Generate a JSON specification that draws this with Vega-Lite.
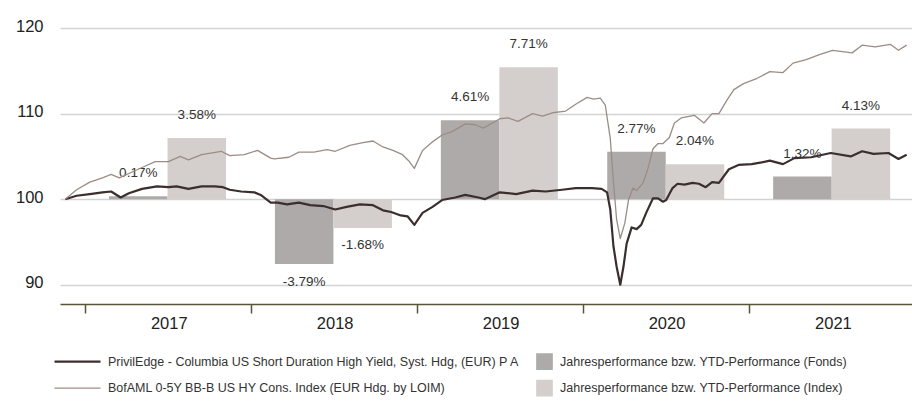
{
  "$schema": "https://vega.github.io/schema/vega-lite/v6.json",
  "width": 852,
  "height": 294,
  "autosize": {"type": "none"},
  "padding": {"left": 60, "top": 10, "right": 0, "bottom": 97},
  "background": "white",
  "config": {
    "view": {"stroke": null},
    "font": "Liberation Sans",
    "axis": {"labelFont": "Liberation Sans"},
    "legend": {"labelFont": "Liberation Sans"}
  },
  "datasets": {
    "bars": [
      {"date": "2017-07-02", "series": "Jahresperformance bzw. YTD-Performance (Fonds)", "pct": 0.17, "label": "0.17%"},
      {"date": "2017-07-02", "series": "Jahresperformance bzw. YTD-Performance (Index)", "pct": 3.58, "label": "3.58%"},
      {"date": "2018-07-02", "series": "Jahresperformance bzw. YTD-Performance (Fonds)", "pct": -3.79, "label": "-3.79%"},
      {"date": "2018-07-02", "series": "Jahresperformance bzw. YTD-Performance (Index)", "pct": -1.68, "label": "-1.68%"},
      {"date": "2019-07-02", "series": "Jahresperformance bzw. YTD-Performance (Fonds)", "pct": 4.61, "label": "4.61%"},
      {"date": "2019-07-02", "series": "Jahresperformance bzw. YTD-Performance (Index)", "pct": 7.71, "label": "7.71%"},
      {"date": "2020-07-02", "series": "Jahresperformance bzw. YTD-Performance (Fonds)", "pct": 2.77, "label": "2.77%"},
      {"date": "2020-07-02", "series": "Jahresperformance bzw. YTD-Performance (Index)", "pct": 2.04, "label": "2.04%"},
      {"date": "2021-07-02", "series": "Jahresperformance bzw. YTD-Performance (Fonds)", "pct": 1.32, "label": "1.32%"},
      {"date": "2021-07-02", "series": "Jahresperformance bzw. YTD-Performance (Index)", "pct": 4.13, "label": "4.13%"}
    ],
    "lines": [
      {"date": "2016-11-19", "series": "Fund", "value": 100.0},
      {"date": "2016-12-14", "series": "Fund", "value": 100.4},
      {"date": "2017-01-12", "series": "Fund", "value": 100.6},
      {"date": "2017-02-09", "series": "Fund", "value": 100.8},
      {"date": "2017-02-28", "series": "Fund", "value": 100.9},
      {"date": "2017-03-21", "series": "Fund", "value": 100.2},
      {"date": "2017-04-08", "series": "Fund", "value": 100.7},
      {"date": "2017-05-07", "series": "Fund", "value": 101.2},
      {"date": "2017-06-09", "series": "Fund", "value": 101.5},
      {"date": "2017-07-04", "series": "Fund", "value": 101.4},
      {"date": "2017-07-22", "series": "Fund", "value": 101.5},
      {"date": "2017-08-17", "series": "Fund", "value": 101.2},
      {"date": "2017-09-15", "series": "Fund", "value": 101.5},
      {"date": "2017-10-14", "series": "Fund", "value": 101.5},
      {"date": "2017-11-01", "series": "Fund", "value": 101.4},
      {"date": "2017-11-16", "series": "Fund", "value": 101.1},
      {"date": "2017-12-11", "series": "Fund", "value": 100.9},
      {"date": "2018-01-09", "series": "Fund", "value": 100.8},
      {"date": "2018-01-23", "series": "Fund", "value": 100.5},
      {"date": "2018-02-14", "series": "Fund", "value": 99.6},
      {"date": "2018-03-01", "series": "Fund", "value": 99.6},
      {"date": "2018-03-22", "series": "Fund", "value": 99.4},
      {"date": "2018-04-17", "series": "Fund", "value": 99.6},
      {"date": "2018-05-12", "series": "Fund", "value": 99.3},
      {"date": "2018-06-10", "series": "Fund", "value": 99.2},
      {"date": "2018-07-06", "series": "Fund", "value": 98.8},
      {"date": "2018-07-31", "series": "Fund", "value": 99.1},
      {"date": "2018-08-29", "series": "Fund", "value": 99.4},
      {"date": "2018-09-27", "series": "Fund", "value": 99.3},
      {"date": "2018-10-19", "series": "Fund", "value": 98.7},
      {"date": "2018-11-06", "series": "Fund", "value": 98.5},
      {"date": "2018-11-27", "series": "Fund", "value": 98.1},
      {"date": "2018-12-12", "series": "Fund", "value": 98.0},
      {"date": "2018-12-27", "series": "Fund", "value": 97.0},
      {"date": "2019-01-14", "series": "Fund", "value": 98.4},
      {"date": "2019-02-05", "series": "Fund", "value": 99.1},
      {"date": "2019-02-26", "series": "Fund", "value": 99.9},
      {"date": "2019-03-27", "series": "Fund", "value": 100.2},
      {"date": "2019-04-18", "series": "Fund", "value": 100.5},
      {"date": "2019-05-17", "series": "Fund", "value": 100.2},
      {"date": "2019-05-31", "series": "Fund", "value": 100.0},
      {"date": "2019-07-03", "series": "Fund", "value": 100.8},
      {"date": "2019-08-08", "series": "Fund", "value": 100.6},
      {"date": "2019-09-13", "series": "Fund", "value": 101.0},
      {"date": "2019-10-12", "series": "Fund", "value": 100.9},
      {"date": "2019-11-17", "series": "Fund", "value": 101.1},
      {"date": "2019-12-17", "series": "Fund", "value": 101.3},
      {"date": "2020-01-22", "series": "Fund", "value": 101.3},
      {"date": "2020-02-12", "series": "Fund", "value": 101.2},
      {"date": "2020-02-24", "series": "Fund", "value": 100.8},
      {"date": "2020-03-02", "series": "Fund", "value": 98.8},
      {"date": "2020-03-09", "series": "Fund", "value": 94.5},
      {"date": "2020-03-16", "series": "Fund", "value": 92.1},
      {"date": "2020-03-24", "series": "Fund", "value": 90.0},
      {"date": "2020-03-31", "series": "Fund", "value": 92.1},
      {"date": "2020-04-07", "series": "Fund", "value": 94.8},
      {"date": "2020-04-18", "series": "Fund", "value": 96.7},
      {"date": "2020-04-29", "series": "Fund", "value": 96.5},
      {"date": "2020-05-09", "series": "Fund", "value": 97.0},
      {"date": "2020-05-20", "series": "Fund", "value": 98.4},
      {"date": "2020-06-04", "series": "Fund", "value": 100.1},
      {"date": "2020-06-15", "series": "Fund", "value": 100.1},
      {"date": "2020-06-26", "series": "Fund", "value": 99.7},
      {"date": "2020-07-03", "series": "Fund", "value": 99.9},
      {"date": "2020-07-17", "series": "Fund", "value": 101.3},
      {"date": "2020-07-28", "series": "Fund", "value": 101.8},
      {"date": "2020-08-12", "series": "Fund", "value": 101.7},
      {"date": "2020-08-30", "series": "Fund", "value": 101.9},
      {"date": "2020-09-13", "series": "Fund", "value": 101.8},
      {"date": "2020-09-28", "series": "Fund", "value": 101.4},
      {"date": "2020-10-12", "series": "Fund", "value": 102.0},
      {"date": "2020-10-27", "series": "Fund", "value": 101.9},
      {"date": "2020-11-18", "series": "Fund", "value": 103.5},
      {"date": "2020-12-09", "series": "Fund", "value": 104.0},
      {"date": "2021-01-07", "series": "Fund", "value": 104.1},
      {"date": "2021-01-29", "series": "Fund", "value": 104.3},
      {"date": "2021-02-16", "series": "Fund", "value": 104.5},
      {"date": "2021-03-17", "series": "Fund", "value": 104.1},
      {"date": "2021-04-11", "series": "Fund", "value": 104.8},
      {"date": "2021-05-18", "series": "Fund", "value": 104.9},
      {"date": "2021-06-30", "series": "Fund", "value": 105.4},
      {"date": "2021-08-13", "series": "Fund", "value": 105.0},
      {"date": "2021-09-07", "series": "Fund", "value": 105.6},
      {"date": "2021-10-02", "series": "Fund", "value": 105.3},
      {"date": "2021-11-04", "series": "Fund", "value": 105.4},
      {"date": "2021-11-26", "series": "Fund", "value": 104.7},
      {"date": "2021-12-14", "series": "Fund", "value": 105.2},
      {"date": "2016-11-19", "series": "Index", "value": 100.0},
      {"date": "2016-12-14", "series": "Index", "value": 101.1},
      {"date": "2017-01-12", "series": "Index", "value": 102.0},
      {"date": "2017-02-09", "series": "Index", "value": 102.5},
      {"date": "2017-02-28", "series": "Index", "value": 102.9},
      {"date": "2017-03-18", "series": "Index", "value": 102.5},
      {"date": "2017-04-08", "series": "Index", "value": 103.0},
      {"date": "2017-05-07", "series": "Index", "value": 103.7},
      {"date": "2017-06-05", "series": "Index", "value": 104.4},
      {"date": "2017-07-04", "series": "Index", "value": 104.4},
      {"date": "2017-07-30", "series": "Index", "value": 105.0},
      {"date": "2017-08-17", "series": "Index", "value": 104.6},
      {"date": "2017-09-15", "series": "Index", "value": 105.2},
      {"date": "2017-10-28", "series": "Index", "value": 105.6},
      {"date": "2017-11-16", "series": "Index", "value": 105.1},
      {"date": "2017-12-18", "series": "Index", "value": 105.2},
      {"date": "2018-01-16", "series": "Index", "value": 105.7},
      {"date": "2018-02-14", "series": "Index", "value": 104.8},
      {"date": "2018-02-22", "series": "Index", "value": 104.7},
      {"date": "2018-03-26", "series": "Index", "value": 104.9},
      {"date": "2018-04-17", "series": "Index", "value": 105.5},
      {"date": "2018-05-20", "series": "Index", "value": 105.5},
      {"date": "2018-06-18", "series": "Index", "value": 105.8},
      {"date": "2018-07-06", "series": "Index", "value": 105.6},
      {"date": "2018-08-07", "series": "Index", "value": 106.3},
      {"date": "2018-09-05", "series": "Index", "value": 106.6},
      {"date": "2018-09-27", "series": "Index", "value": 106.8},
      {"date": "2018-10-19", "series": "Index", "value": 106.1},
      {"date": "2018-11-10", "series": "Index", "value": 105.7},
      {"date": "2018-12-01", "series": "Index", "value": 105.2},
      {"date": "2018-12-16", "series": "Index", "value": 104.4},
      {"date": "2018-12-27", "series": "Index", "value": 103.6},
      {"date": "2019-01-14", "series": "Index", "value": 105.7},
      {"date": "2019-02-05", "series": "Index", "value": 106.7},
      {"date": "2019-02-26", "series": "Index", "value": 107.5},
      {"date": "2019-03-20", "series": "Index", "value": 107.9},
      {"date": "2019-04-18", "series": "Index", "value": 108.8},
      {"date": "2019-05-10", "series": "Index", "value": 108.7},
      {"date": "2019-05-28", "series": "Index", "value": 108.3},
      {"date": "2019-07-03", "series": "Index", "value": 109.4},
      {"date": "2019-07-21", "series": "Index", "value": 109.5},
      {"date": "2019-08-12", "series": "Index", "value": 109.1},
      {"date": "2019-09-13", "series": "Index", "value": 110.0},
      {"date": "2019-10-05", "series": "Index", "value": 109.7},
      {"date": "2019-10-27", "series": "Index", "value": 110.1},
      {"date": "2019-11-25", "series": "Index", "value": 110.3},
      {"date": "2019-12-17", "series": "Index", "value": 111.1},
      {"date": "2020-01-11", "series": "Index", "value": 111.9},
      {"date": "2020-01-25", "series": "Index", "value": 111.7},
      {"date": "2020-02-09", "series": "Index", "value": 111.8},
      {"date": "2020-02-20", "series": "Index", "value": 111.0},
      {"date": "2020-03-02", "series": "Index", "value": 107.1},
      {"date": "2020-03-09", "series": "Index", "value": 102.0},
      {"date": "2020-03-16", "series": "Index", "value": 97.6},
      {"date": "2020-03-24", "series": "Index", "value": 95.4},
      {"date": "2020-04-03", "series": "Index", "value": 97.2},
      {"date": "2020-04-11", "series": "Index", "value": 99.9},
      {"date": "2020-04-21", "series": "Index", "value": 101.3},
      {"date": "2020-04-29", "series": "Index", "value": 101.0},
      {"date": "2020-05-13", "series": "Index", "value": 101.9},
      {"date": "2020-05-24", "series": "Index", "value": 103.6},
      {"date": "2020-06-04", "series": "Index", "value": 105.9},
      {"date": "2020-06-15", "series": "Index", "value": 106.5},
      {"date": "2020-06-26", "series": "Index", "value": 106.5},
      {"date": "2020-07-10", "series": "Index", "value": 107.2},
      {"date": "2020-07-21", "series": "Index", "value": 108.9},
      {"date": "2020-08-05", "series": "Index", "value": 109.5},
      {"date": "2020-09-03", "series": "Index", "value": 109.8},
      {"date": "2020-09-24", "series": "Index", "value": 108.9},
      {"date": "2020-10-12", "series": "Index", "value": 110.0},
      {"date": "2020-10-27", "series": "Index", "value": 110.0},
      {"date": "2020-11-14", "series": "Index", "value": 111.6},
      {"date": "2020-11-29", "series": "Index", "value": 112.8},
      {"date": "2020-12-20", "series": "Index", "value": 113.5},
      {"date": "2021-01-18", "series": "Index", "value": 114.1},
      {"date": "2021-02-16", "series": "Index", "value": 114.9},
      {"date": "2021-03-17", "series": "Index", "value": 114.8},
      {"date": "2021-04-08", "series": "Index", "value": 115.9},
      {"date": "2021-05-07", "series": "Index", "value": 116.3},
      {"date": "2021-06-05", "series": "Index", "value": 116.9},
      {"date": "2021-07-04", "series": "Index", "value": 117.4},
      {"date": "2021-08-16", "series": "Index", "value": 117.1},
      {"date": "2021-09-07", "series": "Index", "value": 118.0},
      {"date": "2021-10-06", "series": "Index", "value": 117.8},
      {"date": "2021-11-08", "series": "Index", "value": 118.1},
      {"date": "2021-11-26", "series": "Index", "value": 117.4},
      {"date": "2021-12-14", "series": "Index", "value": 118.0}
    ]
  },
  "encoding": {
    "x": {
      "field": "date",
      "type": "temporal",
      "scale": {
        "domain": [
          {"year": 2016, "month": 11, "date": 18, "hours": 12},
          {"year": 2021, "month": 12, "date": 14, "hours": 18}
        ],
        "nice": false
      },
      "axis": {
        "title": null,
        "values": [
          {"year": 2017, "month": 1, "date": 1},
          {"year": 2018, "month": 1, "date": 1},
          {"year": 2019, "month": 1, "date": 1},
          {"year": 2020, "month": 1, "date": 1},
          {"year": 2021, "month": 1, "date": 1}
        ],
        "format": "%Y",
        "grid": false,
        "labelOffset": 84,
        "labelFlush": false,
        "labelOverlap": false,
        "labelAlign": "center",
        "labelBaseline": "middle",
        "labelPadding": 10,
        "labelFontSize": 16.5,
        "labelColor": "#222222",
        "domainColor": "#56563a",
        "domainWidth": 1.5,
        "tickColor": "#56563a",
        "tickWidth": 1.5,
        "tickSize": 9
      }
    }
  },
  "layer": [
    {
      "data": {"name": "bars"},
      "encoding": {
        "y": {
          "field": "pct",
          "type": "quantitative",
          "scale": {"domain": [-6.125, 11.055], "nice": false, "zero": false},
          "axis": null
        }
      },
      "layer": [
        {
          "transform": [{"filter": "datum.series === 'Jahresperformance bzw. YTD-Performance (Fonds)'"}],
          "mark": {"type": "bar", "width": 58.5, "xOffset": -29.25},
          "encoding": {
            "y2": {"datum": 0},
            "fill": {
              "field": "series",
              "type": "nominal",
              "scale": {
                "domain": ["Jahresperformance bzw. YTD-Performance (Fonds)", "Jahresperformance bzw. YTD-Performance (Index)"],
                "range": ["#aeaaa9", "#d4cfcc"]
              },
              "legend": {
                "title": null,
                "orient": "none",
                "legendX": 476,
                "legendY": 341.7,
                "padding": 0,
                "direction": "vertical",
                "symbolType": "square",
                "symbolSize": 279,
                "symbolStrokeWidth": 0,
                "labelOffset": 7,
                "labelFontSize": 12.5,
                "labelColor": "#333333",
                "labelLimit": 400,
                "rowPadding": 6.5,
                "clipHeight": 20
              }
            }
          }
        },
        {
          "transform": [{"filter": "datum.series === 'Jahresperformance bzw. YTD-Performance (Index)'"}],
          "mark": {"type": "bar", "width": 58.5, "xOffset": 29.25},
          "encoding": {
            "y2": {"datum": 0},
            "fill": {"field": "series", "type": "nominal"}
          }
        },
        {
          "transform": [{"filter": "datum.series === 'Jahresperformance bzw. YTD-Performance (Fonds)' && datum.pct >= 0"}],
          "mark": {"type": "text", "xOffset": -29.25, "dy": -23, "font": "Liberation Sans", "fontSize": 13.5, "color": "#333333"},
          "encoding": {"text": {"field": "label"}}
        },
        {
          "transform": [{"filter": "datum.series === 'Jahresperformance bzw. YTD-Performance (Fonds)' && datum.pct < 0"}],
          "mark": {"type": "text", "xOffset": -29.25, "dy": 17.5, "font": "Liberation Sans", "fontSize": 13.5, "color": "#333333"},
          "encoding": {"text": {"field": "label"}}
        },
        {
          "transform": [{"filter": "datum.series === 'Jahresperformance bzw. YTD-Performance (Index)' && datum.pct >= 0"}],
          "mark": {"type": "text", "xOffset": 29.25, "dy": -23, "font": "Liberation Sans", "fontSize": 13.5, "color": "#333333"},
          "encoding": {"text": {"field": "label"}}
        },
        {
          "transform": [{"filter": "datum.series === 'Jahresperformance bzw. YTD-Performance (Index)' && datum.pct < 0"}],
          "mark": {"type": "text", "xOffset": 29.25, "dy": 17.5, "font": "Liberation Sans", "fontSize": 13.5, "color": "#333333"},
          "encoding": {"text": {"field": "label"}}
        }
      ]
    },
    {
      "data": {"name": "lines"},
      "mark": {"type": "line", "strokeJoin": "round"},
      "encoding": {
        "y": {
          "field": "value",
          "type": "quantitative",
          "scale": {"domain": [87.75, 122.11], "nice": false, "zero": false},
          "axis": {
            "title": null,
            "orient": "left",
            "values": [90, 100, 110, 120],
            "domain": false,
            "ticks": false,
            "tickSize": 0,
            "grid": true,
            "gridColor": "#d3d3d3",
            "gridWidth": 1.5,
            "labelFontSize": 16.5,
            "labelColor": "#222222",
            "labelPadding": 17,
            "labelOffset": -2
          }
        },
        "stroke": {
          "field": "series",
          "type": "nominal",
          "scale": {"domain": ["Fund", "Index"], "range": ["#3b2f2d", "#9b8d85"]},
          "legend": {
            "title": null,
            "orient": "none",
            "legendX": -7,
            "legendY": 341.7,
            "padding": 0,
            "direction": "vertical",
            "symbolType": "stroke",
            "symbolSize": 2116,
            "symbolStrokeWidth": 2.5,
            "labelOffset": 6,
            "labelFontSize": 12.5,
            "labelColor": "#333333",
            "labelLimit": 500,
            "rowPadding": 6.5,
            "clipHeight": 20,
            "labelExpr": "datum.value === 'Fund' ? 'PrivilEdge - Columbia US Short Duration High Yield, Syst. Hdg, (EUR) P A' : 'BofAML 0-5Y BB-B US HY Cons. Index (EUR Hdg. by LOIM)'"
          }
        },
        "strokeWidth": {
          "field": "series",
          "type": "nominal",
          "scale": {"domain": ["Fund", "Index"], "range": [2.2, 1.3]},
          "legend": null
        }
      }
    }
  ],
  "resolve": {"scale": {"y": "independent"}}
}
